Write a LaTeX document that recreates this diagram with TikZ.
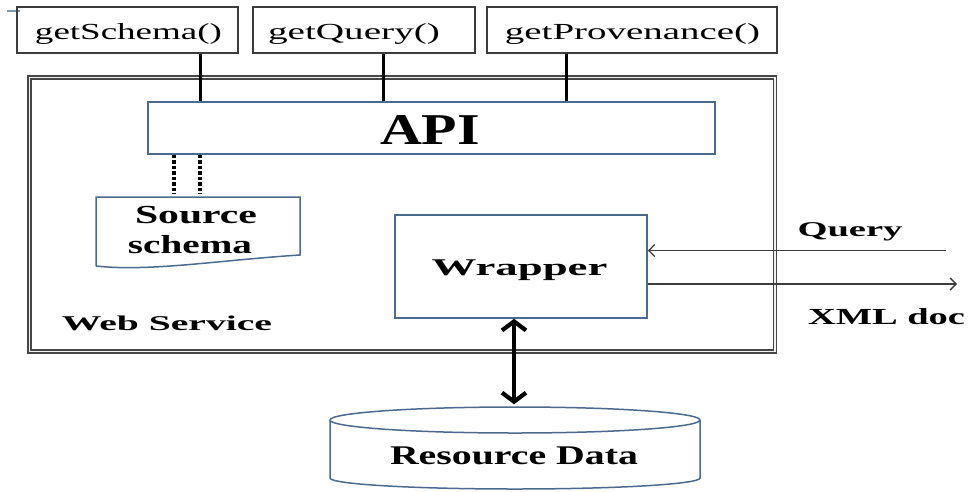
\documentclass[tikz,border=0pt]{standalone}
\usepackage{fontspec}
\setmainfont{Liberation Serif}
\usepackage{graphicx}
\usetikzlibrary{arrows.meta}
\definecolor{bord}{HTML}{4A6A90}
\definecolor{dk}{HTML}{3C3C3C}
\newcommand{\sq}[3]{\resizebox{#1pt}{\height}{\fontsize{#2}{#2}\selectfont #3}}
\begin{document}
\begin{tikzpicture}[x=1pt,y=-1pt,
  lbl/.style={anchor=base, inner sep=0pt, text=black},
  topbox/.style={draw=dk, line width=1.6pt, minimum height=46pt, inner sep=0pt},
  bluebox/.style={draw=bord, line width=1.5pt, inner sep=0pt},
  conn/.style={line width=3pt, draw=black},
  dconn/.style={line width=3.4pt, draw=black, dash pattern=on 3.5pt off 2pt},
  thinarrow/.style={draw=dk, line width=1.4pt, -{Straight Barb[length=6pt,width=12pt]}},
  bigarrow/.style={line width=4.2pt, {Straight Barb[length=9pt,width=24pt]}-{Straight Barb[length=9pt,width=24pt]}},
]
\path[use as bounding box] (0,0) rectangle (969,491);

% small artifact
\draw[bord!70, line width=1.4pt] (7,11) -- (20,11);

% top method boxes
\node[topbox, minimum width=221pt] (gs) at (127.5,30) {};
\node[topbox, minimum width=222pt] (gq) at (364,30) {};
\node[topbox, minimum width=290pt] (gp) at (632,30) {};
\node[lbl] (gst) at (128.5,39) {\sq{187}{23}{getSchema()}};
\node[lbl] (gqt) at (354,39) {\sq{172}{23}{getQuery()}};
\node[lbl] (gpt) at (632.5,39) {\sq{255}{23}{getProvenance()}};

% web service frame
\node[draw=gray!55!black, double=gray!12, double distance=1.2pt, line width=1.6pt,
      minimum width=745.5pt, minimum height=274pt, inner sep=0pt] (ws) at (402.25,214.5) {};
\node[lbl] (wst) at (167,330) {\sq{210}{21}{\bfseries Web Service}};

% API
\node[bluebox, minimum width=567pt, minimum height=52pt] (api) at (431.5,128) {};
\node[lbl] (apit) at (430,144) {\sq{100}{44}{\bfseries API}};

\coordinate (c1) at (200,0);
\coordinate (c2) at (383,0);
\coordinate (c3) at (566,0);
\draw[conn] (gs.south -| c1) -- (api.north -| c1);
\draw[conn] (gq.south -| c2) -- (api.north -| c2);
\draw[conn] (gp.south -| c3) -- (api.north -| c3);

% source schema
\node[inner sep=0pt, minimum width=204pt, minimum height=70pt] (src) at (198,232) {};
\draw[bord, line width=1.5pt] (96,266) -- (96,197) -- (300,197) -- (300,255)
   .. controls (220,260) and (150,272) .. (96,266);
\node[lbl] (srct1) at (196,223) {\sq{122}{26}{\bfseries Source}};
\node[lbl] (srct2) at (190,253) {\sq{124}{26}{\bfseries schema}};
\coordinate (d1) at (174,0);
\coordinate (d2) at (200,0);
\draw[dconn, shorten >=3pt] (api.south -| d1) -- (src.north -| d1);
\draw[dconn, shorten >=3pt] (api.south -| d2) -- (src.north -| d2);

% wrapper
\node[bluebox, minimum width=252pt, minimum height=103pt] (wr) at (521,266.5) {};
\node[lbl] (wrt) at (519.5,275) {\sq{176}{24}{\bfseries Wrapper}};

\coordinate (qin) at (946,250.5);
\coordinate (xout) at (957,284);
\draw[thinarrow] (qin) -- (qin -| wr.east);
\draw[thinarrow] (xout -| wr.east) -- (xout);
\node[lbl] (qt) at (850,236) {\sq{105}{21}{\bfseries Query}};
\node[lbl] (xt) at (886.5,324) {\sq{157}{23}{\bfseries XML doc}};

% resource data cylinder
\node[inner sep=0pt, minimum width=370pt, minimum height=85pt] (db) at (515,447) {};
\draw[bord, line width=1.5pt] (515,420) ellipse [x radius=185, y radius=13];
\draw[bord, line width=1.5pt] (330,420) -- (330,478) arc[start angle=180, end angle=0, x radius=185, y radius=11] -- (700,420);
\node[lbl] (dbt) at (514,464) {\sq{248}{27}{\bfseries Resource Data}};

\coordinate (da) at (514,0);
\draw[bigarrow] (wr.south -| da) -- (db.north -| da);
\end{tikzpicture}
\end{document}
